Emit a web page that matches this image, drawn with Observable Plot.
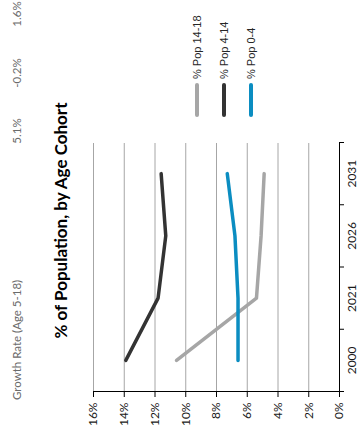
<!DOCTYPE html>
<html>
<head>
<meta charset="utf-8">
<script src="https://cdn.jsdelivr.net/npm/d3@7"></script>
<script src="https://cdn.jsdelivr.net/npm/@observablehq/plot@0.6"></script>
<style>
  html, body { margin: 0; padding: 0; background: #fff; overflow: hidden; }
  #land { position: absolute; left: 0; top: 0; width: 441px; height: 358px;
          transform-origin: 0 0; transform: translate(0px, 441px) rotate(-90deg);
          background: #fff; font-family: Lato, "Open Sans", sans-serif; }
  #land > * { position: absolute; }
  .lbl { white-space: nowrap; font-size: 11.5px; line-height: 12px; color: #6b6b6b; }
  .ttl { left: 0; width: 441px; text-align: center; font-weight: bold; font-size: 17px; line-height: 18px; color: #000; }
  .leg-line { height: 3.5px; width: 34px; border-radius: 2px; }
  .leg-text { font-family: "Liberation Sans", Arial, sans-serif; font-size: 11px; line-height: 12px; color: #262626; white-space: nowrap; }
</style>
</head>
<body>
<div id="land"></div>
<script>
// ---- data ----
const categories = ["2000", "2021", "2026", "2031"];
const pop0_4   = [6.6, 6.6, 6.8, 7.3];
const pop4_14  = [13.9, 11.8, 11.3, 11.6];
const pop14_18 = [10.6, 5.4, 5.1, 4.9];
const seriesNames = ["% Pop 14-18", "% Pop 4-14", "% Pop 0-4"];
const seriesColors = ["#a6a6a6", "#333333", "#0b8dc1"];
const yTickValues = [0, 2, 4, 6, 8, 10, 12, 14, 16];
const growthTitle = "Growth Rate (Age 5-18)";
const growthValues = ["5.1%", "-0.2%", "1.6%"];
const chartTitle = "% of Population, by Age Cohort";

const seriesValues = [pop14_18, pop4_14, pop0_4];
const rows = [];
seriesNames.forEach((s, k) => categories.forEach((c, i) =>
  rows.push({series: s, idx: i, cat: c, value: seriesValues[k][i]})));
const boundaries = d3.range(categories.length + 1).map(i => i - 0.5);

const land = document.getElementById("land");

const chart = Plot.plot({
  width: 441, height: 358,
  marginLeft: 49, marginRight: 143, marginTop: 93, marginBottom: 19,
  style: {fontFamily: "Lato, 'Open Sans', sans-serif", fontSize: "12px", color: "#000", background: "transparent"},
  x: {type: "linear", domain: [-0.5, categories.length - 0.5], axis: null},
  y: {domain: [0, 16], axis: null},
  color: {domain: seriesNames, range: seriesColors},
  marks: [
    Plot.gridY(yTickValues.filter(d => d > 0), {stroke: "#a6a6a6", strokeOpacity: 1, strokeWidth: 1}),
    Plot.axisY(yTickValues, {tickSize: 5, tickPadding: 6, tickFormat: d => d + "%", stroke: "#000", fill: "#1a1a1a", fontSize: 12, label: null}),
    Plot.axisX(boundaries, {tickSize: 5, tickFormat: () => "", stroke: "#000", label: null}),
    Plot.axisX(categories.map((c, i) => i), {tickSize: 0, tickPadding: 8, tickFormat: i => categories[i], fill: "#1a1a1a", fontSize: 12, label: null}),
    Plot.ruleX([-0.5], {stroke: "#000"}),
    Plot.ruleY([0], {stroke: "#000"}),
    Plot.line(rows, {x: "idx", y: "value", z: "series", stroke: "series",
      strokeWidth: 3.5, strokeLinecap: "round", strokeLinejoin: "round"})
  ]
});
chart.style.left = "0px"; chart.style.top = "0px";
land.appendChild(chart);

// growth-rate header row
const gt = document.createElement("div");
gt.className = "lbl"; gt.textContent = growthTitle;
gt.style.left = "41px"; gt.style.top = "11px";
land.appendChild(gt);
const gx = [310, 368, 427];
growthValues.forEach((v, i) => {
  const d = document.createElement("div");
  d.className = "lbl"; d.textContent = v;
  d.style.left = (gx[i] - 30) + "px"; d.style.width = "60px"; d.style.textAlign = "center";
  d.style.top = "11px";
  land.appendChild(d);
});

// title
const t = document.createElement("div");
t.className = "ttl"; t.textContent = chartTitle; t.style.top = "52px";
land.appendChild(t);

// legend
const legY = [197, 224, 251];
seriesNames.forEach((s, i) => {
  const ln = document.createElement("div");
  ln.className = "leg-line"; ln.style.background = seriesColors[i];
  ln.style.left = "324px"; ln.style.top = (legY[i] - 1.75) + "px";
  land.appendChild(ln);
  const tx = document.createElement("div");
  tx.className = "leg-text"; tx.textContent = s;
  tx.style.left = "362px"; tx.style.top = (legY[i] - 6) + "px";
  land.appendChild(tx);
});
</script>
</body>
</html>
